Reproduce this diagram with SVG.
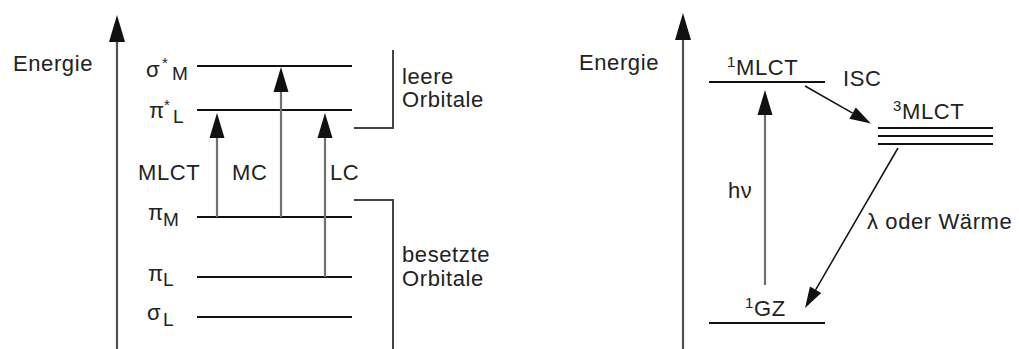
<svg xmlns="http://www.w3.org/2000/svg" width="1019" height="349" viewBox="0 0 1019 349">
<style>
text{font-family:"Liberation Sans",Arial,sans-serif;font-size:22px;fill:#222;letter-spacing:0.6px}
.sub{font-size:19px}
.sup{font-size:15px}
.lvl{stroke:#111;stroke-width:2;fill:none}
.axis{stroke:#505050;stroke-width:2.2;fill:none}
.tr{stroke:#707070;stroke-width:2.2;fill:none}
.thin{stroke:#111;stroke-width:1.5;fill:none}
.br{stroke:#444;stroke-width:2;fill:none}
</style>
<defs>
<marker id="axhead" markerUnits="userSpaceOnUse" markerWidth="27" markerHeight="16" refX="0" refY="8" orient="auto" overflow="visible"><path d="M0,0 L27,8 L0,16 z" fill="#111"/></marker>
<marker id="head" markerUnits="userSpaceOnUse" markerWidth="25" markerHeight="15" refX="0" refY="7.5" orient="auto" overflow="visible"><path d="M0,0 L25,7.5 L0,15 z" fill="#111"/></marker>
<marker id="shead" markerUnits="userSpaceOnUse" markerWidth="21" markerHeight="13" refX="0" refY="6.5" orient="auto" overflow="visible"><path d="M0,0 L21,6.5 L0,13 z" fill="#111"/></marker>
</defs>

<!-- left diagram -->
<g id="axis-left">
<line class="axis" x1="117" y1="349" x2="117" y2="42" marker-end="url(#axhead)"/>
<text x="13" y="71">Energie</text>
</g>
<g id="sigma-star-M">
<line class="lvl" x1="197" y1="66" x2="352" y2="66"/>
<text x="146" y="77">σ<tspan class="sup" x="162" y="68">*</tspan><tspan class="sub" x="172" y="80">M</tspan></text>
</g>
<g id="pi-star-L">
<line class="lvl" x1="197" y1="110" x2="352" y2="110"/>
<text x="149" y="118">π<tspan class="sup" x="164" y="110">*</tspan><tspan class="sub" x="173" y="123">L</tspan></text>
</g>
<g id="pi-M">
<line class="lvl" x1="197" y1="217" x2="352" y2="217"/>
<text x="148" y="220">π<tspan class="sub" x="163" y="226">M</tspan></text>
</g>
<g id="pi-L">
<line class="lvl" x1="197" y1="277" x2="352" y2="277"/>
<text x="148" y="281">π<tspan class="sub" x="163" y="286">L</tspan></text>
</g>
<g id="sigma-L">
<line class="lvl" x1="197" y1="317" x2="352" y2="317"/>
<text x="147" y="320">σ<tspan class="sub" x="163" y="326">L</tspan></text>
</g>
<g id="leere-orbitale">
<path class="br" d="M354,128 H393 V50"/>
<text x="402" y="84">leere</text>
<text x="402" y="107">Orbitale</text>
</g>
<g id="besetzte-orbitale">
<path class="br" d="M354,200 H393 V349"/>
<text x="402" y="262">besetzte</text>
<text x="402" y="286">Orbitale</text>
</g>

<!-- right diagram -->
<g id="axis-right">
<line class="axis" x1="683" y1="349" x2="683" y2="40" marker-end="url(#axhead)"/>
<text x="579" y="70">Energie</text>
</g>
<g id="MLCT1">
<line class="lvl" x1="709" y1="82" x2="825" y2="82"/>
<text x="727" y="75"><tspan class="sup" y="67">1</tspan><tspan y="75">MLCT</tspan></text>
</g>
<g id="MLCT3">
<line class="lvl" x1="878" y1="128" x2="993" y2="128"/>
<line class="lvl" x1="878" y1="136" x2="993" y2="136"/>
<line class="lvl" x1="878" y1="144" x2="993" y2="144"/>
<text x="893" y="119"><tspan class="sup" y="111">3</tspan><tspan y="119">MLCT</tspan></text>
</g>
<g id="GZ1">
<line class="lvl" x1="709" y1="323" x2="825" y2="323"/>
<text x="745" y="316"><tspan class="sup" y="308">1</tspan><tspan y="316">GZ</tspan></text>
</g>

<g id="connectors">
<line class="tr" x1="217" y1="217" x2="217" y2="138" marker-end="url(#head)"/>
<line class="tr" x1="281" y1="217" x2="281" y2="92" marker-end="url(#head)"/>
<line class="tr" x1="325" y1="277" x2="325" y2="138" marker-end="url(#head)"/>
<text x="138" y="180">MLCT</text>
<text x="232" y="180">MC</text>
<text x="330" y="180">LC</text>
<line class="tr" x1="765" y1="285" x2="765" y2="115" marker-end="url(#head)"/>
<text x="728" y="198">hν</text>
<line class="thin" x1="805" y1="86" x2="852.6" y2="113.1" marker-end="url(#shead)"/>
<text x="843" y="86">ISC</text>
<line class="thin" x1="898" y1="148" x2="815.6" y2="289.8" marker-end="url(#shead)"/>
<text x="867" y="229">λ oder Wärme</text>
</g>
</svg>
